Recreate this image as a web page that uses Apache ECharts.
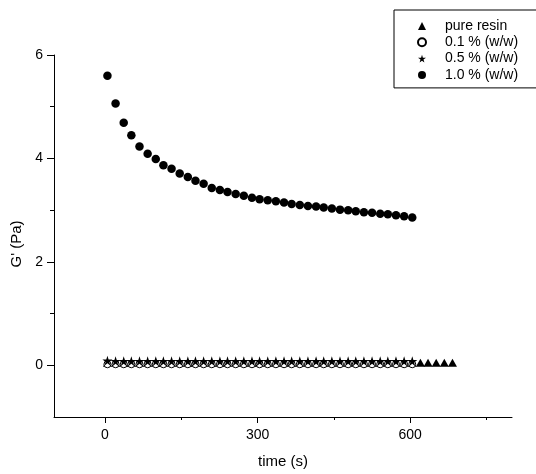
<!DOCTYPE html>
<html>
<head>
<meta charset="utf-8">
<script src="https://cdn.jsdelivr.net/npm/echarts@6/dist/echarts.min.js"></script>
<style>
html,body{margin:0;padding:0;background:#fff;}
#chart{width:536px;height:474px;}
</style>
</head>
<body>
<div id="chart"></div>
<script>
// ---- data ----
var seriesNames = ['pure resin', '0.1 % (w/w)', '0.5 % (w/w)', '1.0 % (w/w)'];
var times = [5, 21, 37, 52, 68, 84, 100, 115, 131, 147, 163, 178, 194, 210, 226, 241, 257, 273, 289, 304,
             320, 336, 352, 367, 383, 399, 415, 430, 446, 462, 478, 493, 509, 525, 541, 556, 572, 588, 604];
var timesResin = [5, 21, 37, 52, 68, 84, 100, 115, 131, 147, 163, 178, 194, 210, 226, 241, 257, 273, 289, 304,
             320, 336, 352, 367, 383, 399, 415, 430, 446, 462, 478, 493, 509, 525, 541, 556, 572, 588, 604,
             620, 635, 651, 667, 683];
var gResin = [0.05, 0.05, 0.05, 0.05, 0.05, 0.05, 0.05, 0.05, 0.05, 0.05, 0.05, 0.05, 0.05, 0.05, 0.05, 0.05, 0.05, 0.05, 0.05, 0.05,
              0.05, 0.05, 0.05, 0.05, 0.05, 0.05, 0.05, 0.05, 0.05, 0.05, 0.05, 0.05, 0.05, 0.05, 0.05, 0.05, 0.05, 0.05, 0.05,
              0.05, 0.05, 0.05, 0.05, 0.05];
var g01 = [0.02, 0.02, 0.02, 0.02, 0.02, 0.02, 0.02, 0.02, 0.02, 0.02, 0.02, 0.02, 0.02, 0.02, 0.02, 0.02, 0.02, 0.02, 0.02, 0.02,
           0.02, 0.02, 0.02, 0.02, 0.02, 0.02, 0.02, 0.02, 0.02, 0.02, 0.02, 0.02, 0.02, 0.02, 0.02, 0.02, 0.02, 0.02, 0.02];
var g05 = [0.09, 0.08, 0.08, 0.08, 0.08, 0.08, 0.08, 0.08, 0.08, 0.08, 0.08, 0.08, 0.08, 0.08, 0.08, 0.08, 0.08, 0.08, 0.08, 0.08,
           0.08, 0.08, 0.08, 0.08, 0.08, 0.08, 0.08, 0.08, 0.08, 0.08, 0.08, 0.08, 0.08, 0.08, 0.08, 0.08, 0.08, 0.08, 0.08];
var g10 = [5.60, 5.06, 4.69, 4.45, 4.23, 4.09, 3.99, 3.87, 3.80, 3.71, 3.64, 3.57, 3.51, 3.43, 3.39, 3.35, 3.31, 3.28, 3.24, 3.21,
           3.19, 3.17, 3.15, 3.12, 3.10, 3.08, 3.07, 3.05, 3.03, 3.01, 3.00, 2.98, 2.96, 2.95, 2.93, 2.92, 2.90, 2.88, 2.86];
var xMajorTicks = [0, 300, 600];
var xMinorTicks = [150, 450, 750];
var yMajorTicks = [0, 2, 4, 6];
var yMinorTicks = [1, 3, 5];

function pairs(xs, ys) { return xs.map(function (x, i) { return [x, ys[i]]; }); }

var STAR = 'path://M50,0 L61,35 L98,35 L68,57 L79,91 L50,70 L21,91 L32,57 L2,35 L39,35 Z';
var FONT = 'Liberation Sans';

var chart = echarts.init(document.getElementById('chart'), null, {renderer: 'canvas'});
var option = {
  animation: false,
  backgroundColor: '#fff',
  grid: {left: 54, right: 24, top: 55, bottom: 53, containLabel: false},
  legend: {
    orient: 'vertical', left: 394, top: 10,
    borderColor: '#000', borderWidth: 1, borderRadius: 0,
    padding: [9, 90, 6, 23],
    itemWidth: 8, itemHeight: 8, itemGap: 2.3,
    textStyle: {fontFamily: FONT, fontSize: 14, color: '#000', lineHeight: 14, padding: [0, 0, 0, 14]},
    data: seriesNames
  },
  xAxis: [{
    type: 'value', position: 'bottom', min: -100, max: 800,
    axisLine: {onZero: false, lineStyle: {color: '#000', width: 1}},
    axisTick: {show: true, length: 6, customValues: xMajorTicks, lineStyle: {color: '#000'}},
    axisLabel: {customValues: xMajorTicks, color: '#000', fontFamily: FONT, fontSize: 14, margin: 11},
    splitLine: {show: false},
    name: 'time (s)', nameLocation: 'middle', nameGap: 37,
    nameTextStyle: {fontFamily: FONT, fontSize: 15, color: '#000'}
  }, {
    type: 'value', position: 'bottom', min: -100, max: 800,
    axisLine: {show: false, onZero: false},
    axisTick: {show: true, length: 3, customValues: xMinorTicks, lineStyle: {color: '#000'}},
    axisLabel: {show: false},
    splitLine: {show: false}
  }],
  yAxis: [{
    type: 'value', position: 'left', min: -1, max: 6,
    axisLine: {show: true, onZero: false, lineStyle: {color: '#000', width: 1}},
    axisTick: {show: true, length: 7, customValues: yMajorTicks, lineStyle: {color: '#000'}},
    axisLabel: {customValues: yMajorTicks, color: '#000', fontFamily: FONT, fontSize: 14, margin: 11},
    splitLine: {show: false},
    name: "G' (Pa)", nameLocation: 'middle', nameGap: 28,
    nameTextStyle: {fontFamily: FONT, fontSize: 15, color: '#000', padding: [0, 16, 0, 0]}
  }, {
    type: 'value', position: 'left', min: -1, max: 6,
    axisLine: {show: false, onZero: false},
    axisTick: {show: true, length: 4, customValues: yMinorTicks, lineStyle: {color: '#000'}},
    axisLabel: {show: false},
    splitLine: {show: false}
  }],
  series: [{
    name: seriesNames[0], type: 'scatter', symbol: 'triangle', symbolSize: [9, 8],
    itemStyle: {color: '#000', opacity: 1},
    data: pairs(timesResin, gResin)
  }, {
    name: seriesNames[1], type: 'scatter', symbol: 'circle', symbolSize: 7,
    itemStyle: {color: '#fff', borderColor: '#000', borderWidth: 1, opacity: 1},
    data: pairs(times, g01)
  }, {
    name: seriesNames[2], type: 'scatter', symbol: STAR, symbolSize: 10,
    itemStyle: {color: '#000', opacity: 1},
    data: pairs(times, g05)
  }, {
    name: seriesNames[3], type: 'scatter', symbol: 'circle', symbolSize: 8.5,
    itemStyle: {color: '#000', opacity: 1},
    data: pairs(times, g10)
  }]
};
chart.setOption(option);
</script>
</body>
</html>
